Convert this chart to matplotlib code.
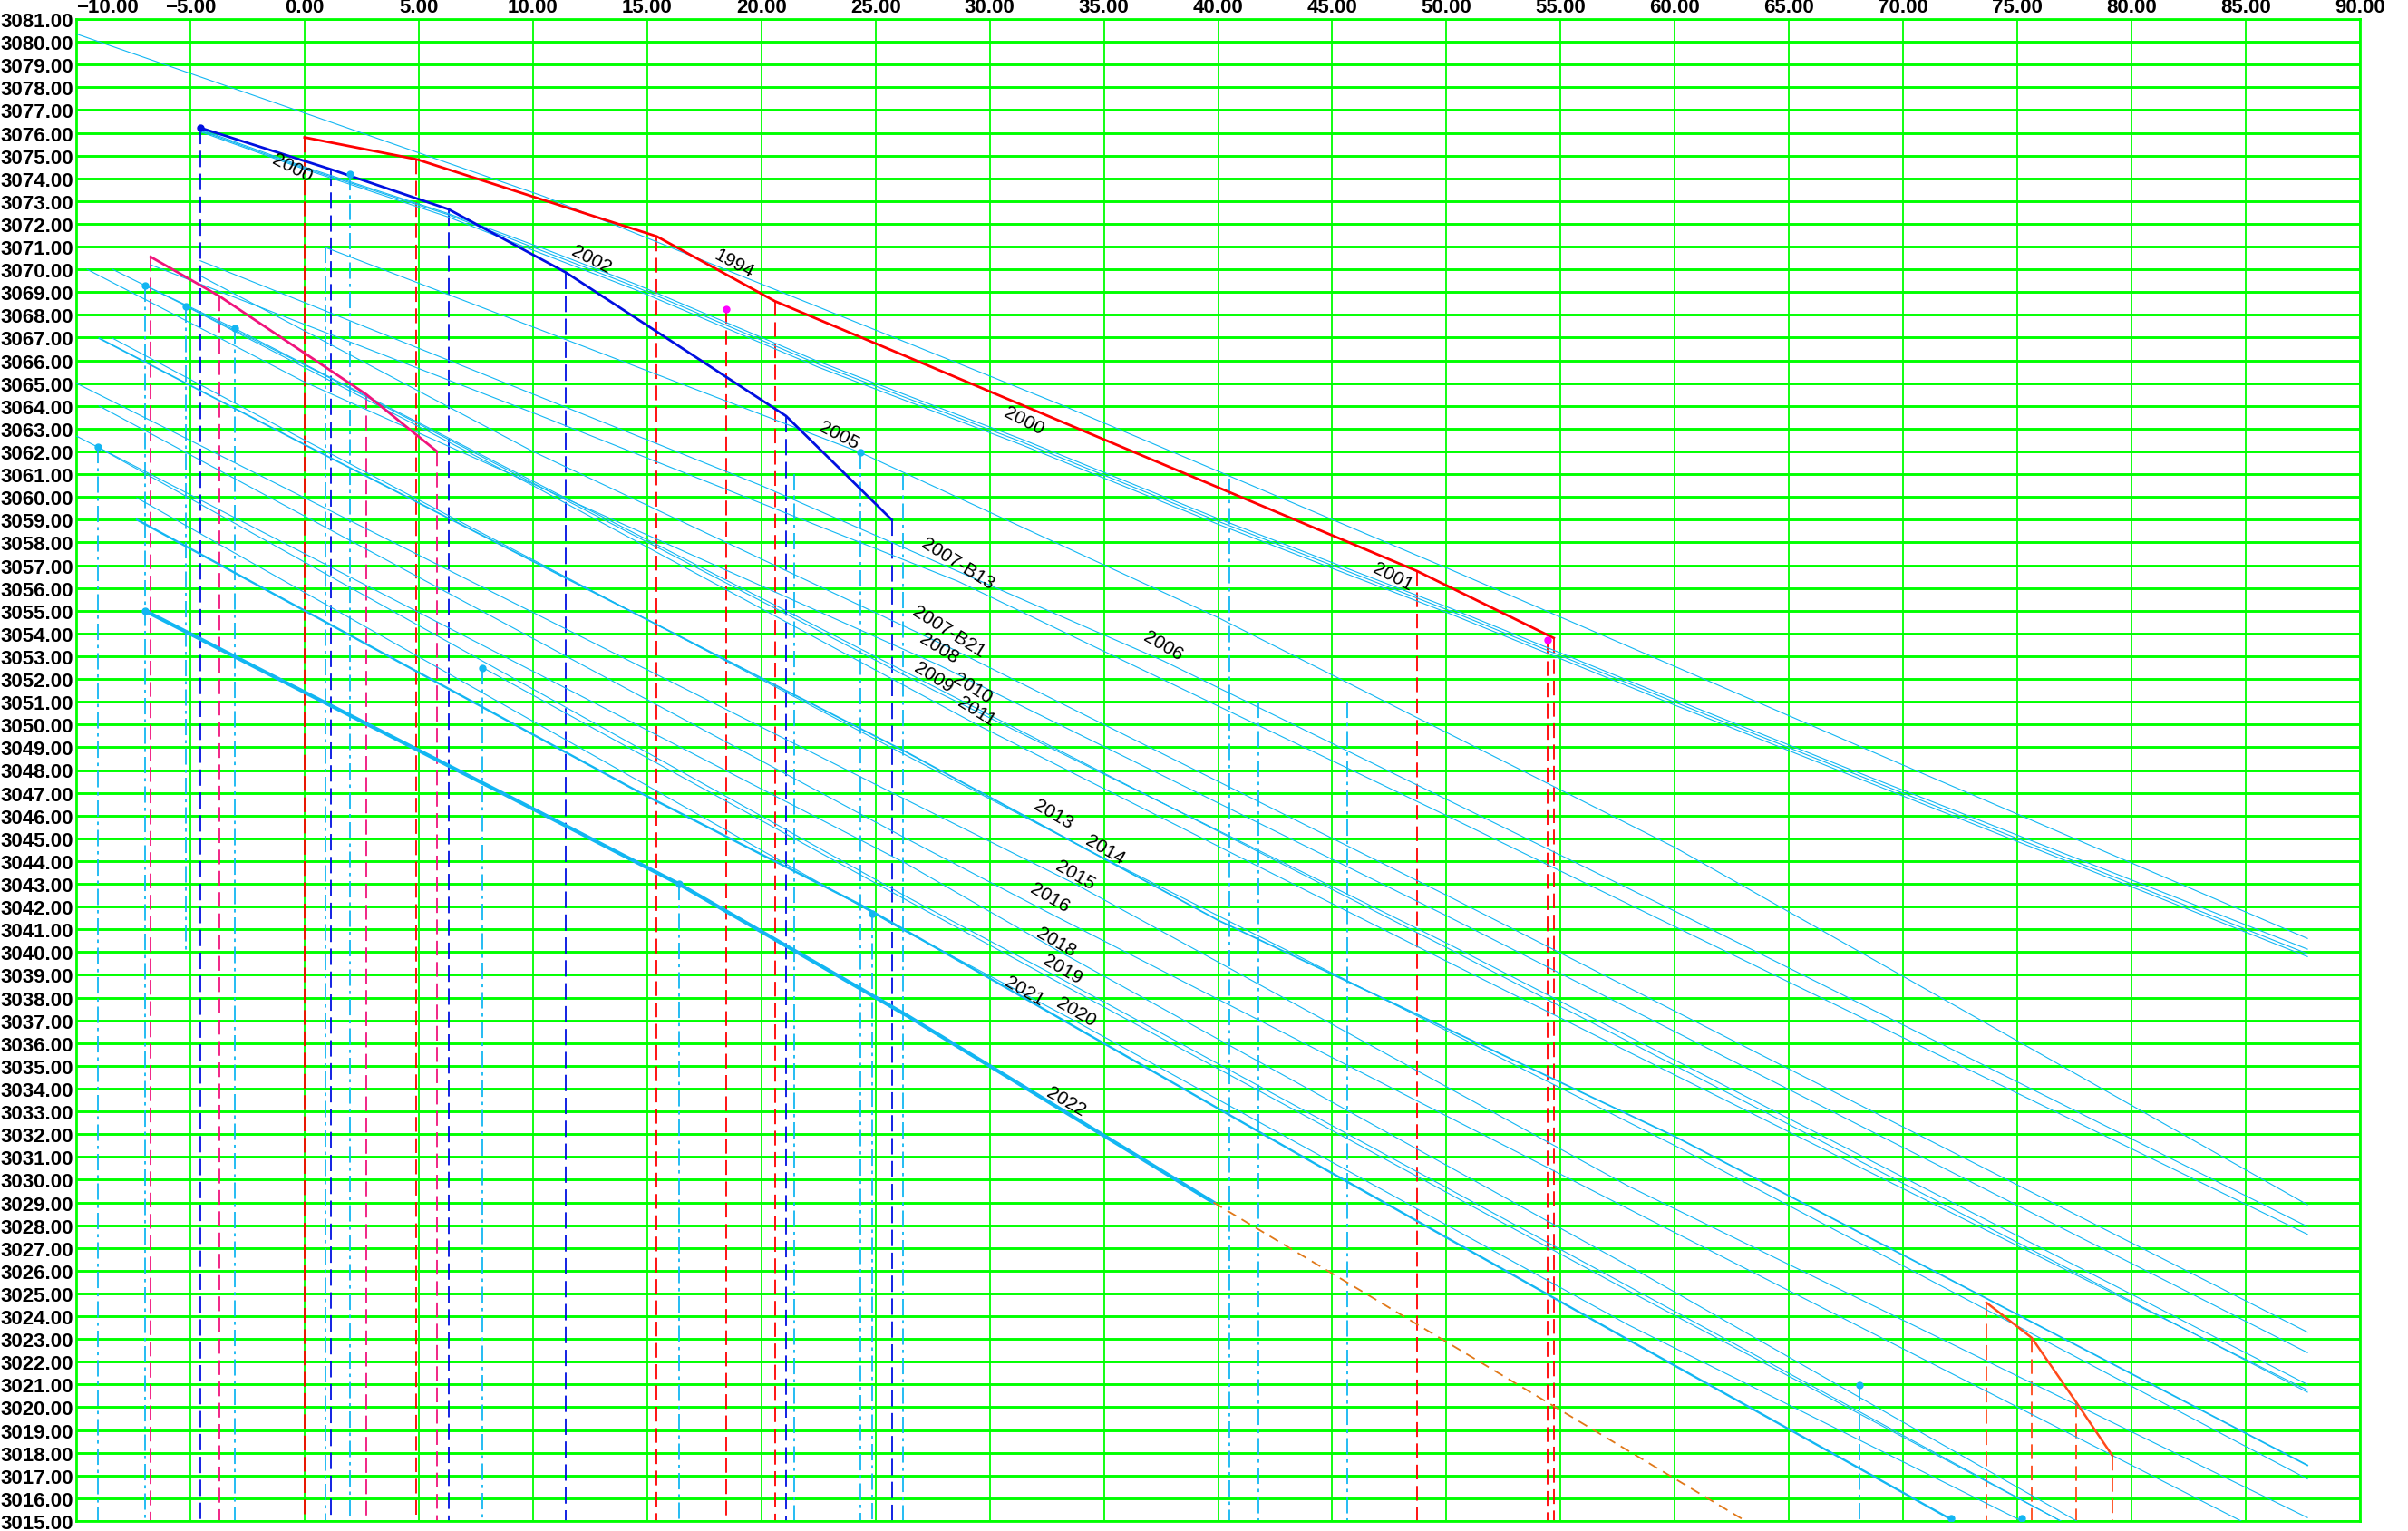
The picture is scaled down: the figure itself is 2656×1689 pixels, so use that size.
import matplotlib
matplotlib.use("Agg")
import matplotlib.pyplot as plt

plt.rcParams['font.family'] = ['Liberation Sans Narrow', 'Liberation Sans', 'DejaVu Sans']

# axis ranges
x_ticks = list(range(-10, 91, 5))
y_ticks = list(range(3015, 3082))

# profile lines (offset, elevation) per survey year
line_1994 = [(-10, 3080.35), (0, 3076.87), (10.5, 3073.2), (33.1, 3064.06), (50.2, 3056.8), (70.2, 3048.13), (87.7, 3040.6)]
line_2000 = [(-4.57, 3076.15), (0, 3074.5), (6.3, 3072.45), (10.5, 3070.9), (14.5, 3069.35), (22.5, 3065.95), (31.5, 3062.5), (40, 3059.05), (50.2, 3055.1), (60, 3051.1), (67.5, 3048.1), (87.7, 3040.13)]
line_2001 = [(-4.57, 3076.1), (0, 3074.45), (6.3, 3072.4), (10.5, 3070.78), (14.5, 3069.23), (22.5, 3065.83), (31.5, 3062.38), (40, 3058.93), (50.2, 3054.98), (60, 3050.98), (67.5, 3047.98), (87.7, 3039.93)]
line_2002 = [(-4.57, 3076.05), (0, 3074.4), (6.3, 3072.3), (10.5, 3070.65), (14.5, 3069.1), (22.5, 3065.7), (31.5, 3062.25), (40, 3058.8), (50.2, 3054.85), (60, 3050.85), (67.5, 3047.85), (87.7, 3039.8)]
line_2005 = [(0.9, 3070.97), (24.32, 3061.96), (40, 3054.7), (60, 3044.6), (87.7, 3028.9)]
line_2006 = [(-4.57, 3070.38), (20, 3060.5), (37.6, 3052.8), (60, 3041.8), (87.7, 3027.94)]
line_2007_b13 = [(-6.74, 3070.2), (10, 3063.7), (28.6, 3056.3), (50, 3046.0), (87.7, 3027.6)]
line_2007_b21 = [(-4.57, 3069.72), (10, 3062.0), (28.2, 3053.4), (50, 3042.5), (87.7, 3023.3)]
line_2008 = [(-9.52, 3070.0), (0, 3065.05), (27.8, 3052.6), (50, 3041.6), (87.7, 3022.4)]
line_2009 = [(-8.4, 3070.0), (0, 3065.8), (27.56, 3051.5), (50, 3040.4), (87.7, 3021.0)]
line_2010 = [(-6.99, 3069.3), (-3.05, 3067.4), (29.25, 3050.8), (50, 3040.2), (87.7, 3020.66)]
line_2011 = [(-5.21, 3068.39), (10, 3060.5), (29.43, 3050.0), (50, 3039.6), (87.7, 3020.75)]
line_2013 = [(-8.99, 3066.97), (0, 3062.3), (26.33, 3048.8), (40, 3041.4), (60, 3031.9), (87.7, 3017.45)]
line_2014 = [(-8.4, 3066.97), (0, 3062.5), (26.33, 3048.65), (35.05, 3044.1), (60, 3031.5), (87.7, 3016.85)]
line_2015 = [(-10, 3065.0), (26.33, 3046.7), (33.73, 3043.0), (58, 3029.7), (87.7, 3015.15)]
line_2016 = [(-9.0, 3064.0), (26.33, 3045.0), (32.64, 3041.7), (58, 3028.7), (84.8, 3015)]
line_2018 = [(-10, 3062.68), (26.33, 3043.9), (32.92, 3040.1), (58, 3026.2), (77.6, 3015)]
line_2019 = [(-9.04, 3062.18), (26.33, 3042.45), (33.18, 3038.8), (58, 3025.3), (76.9, 3015)]
line_2019b = [(7.8, 3052.5), (26.33, 3042.3), (58, 3025.1), (76.9, 3015)]
line_2020 = [(-7.34, 3059.96), (26.33, 3040.9), (33.78, 3036.95), (58, 3023.6), (75.2, 3015)]
line_2021 = [(-7.34, 3059.0), (14.8, 3046.95), (24.4, 3042.05), (43.6, 3031.07), (57.9, 3023.0), (72.1, 3015.07)]
line_2022 = [(-6.99, 3055.0), (8.73, 3046.95), (16.38, 3043.0), (26.4, 3037.2), (39.8, 3029.0)]

thin_lines = [line_1994, line_2000, line_2001, line_2002, line_2005, line_2006,
              line_2007_b13, line_2007_b21, line_2008, line_2009, line_2010,
              line_2011, line_2014, line_2015, line_2016, line_2018, line_2019,
              line_2019b, line_2020]

# design / reference polylines
red_line = [(0, 3075.8), (4.93, 3074.83), (15.42, 3071.45), (20.6, 3068.6), (48.7, 3056.75), (54.7, 3053.8)]
blue_line = [(-4.57, 3076.22), (1.17, 3074.39), (6.31, 3072.64), (11.45, 3069.86), (21.08, 3063.56), (25.71, 3059.0)]
pink_line = [(-6.74, 3070.55), (-3.74, 3068.83), (2.71, 3064.5), (5.8, 3062.0)]
orange_line = [(73.64, 3024.6), (75.63, 3023.05), (77.59, 3020.2), (79.16, 3017.87)]
orange_dash = [(39.8, 3029.0), (63.1, 3015.0)]

# boreholes: (offset, top elevation)
cyan_holes = [(-9.04, 3062.18), (-6.99, 3069.3), (-3.05, 3067.4), (0.91, 3071.0), (1.97, 3074.2),
              (7.8, 3052.5), (16.38, 3043.0), (21.43, 3061.0), (24.32, 3061.96), (24.86, 3041.7),
              (26.2, 3061.0), (40.5, 3060.8), (41.75, 3051.0), (45.65, 3051.0), (68.1, 3020.96)]
cyan_short_hole = (-5.18, 3068.39, 3040.0)
cyan_markers = [(-9.04, 3062.18), (-6.99, 3069.3), (-5.18, 3068.39), (-3.05, 3067.4), (1.97, 3074.2),
                (7.8, 3052.5), (16.38, 3043.0), (24.32, 3061.96), (24.86, 3041.7), (68.1, 3020.96),
                (72.1, 3015.1), (75.2, 3015.1), (-6.99, 3055.0)]
red_holes = [(0, 3075.8), (4.9, 3074.83), (15.42, 3071.45), (18.46, 3068.26), (20.6, 3068.6),
             (48.7, 3056.75), (54.42, 3053.7), (54.7, 3053.8)]
pink_markers = [(18.46, 3068.26), (54.42, 3053.7)]
blue_holes = [(-4.57, 3076.22), (1.17, 3074.39), (6.31, 3072.64), (11.45, 3069.86), (21.08, 3063.56), (25.71, 3059.0)]
pink_holes = [(-6.74, 3070.55), (-3.74, 3068.83), (2.71, 3064.5), (5.8, 3062.0)]
orange_holes = [(73.64, 3024.6), (75.63, 3023.05), (77.59, 3020.2), (79.16, 3017.87)]

# line labels: (text, x, y, rotation)
labels = [("2000", -0.53, 3074.48, -27), ("2002", 12.56, 3070.45, -27), ("1994", 18.82, 3070.3, -28),
          ("2005", 23.4, 3062.75, -27), ("2000", 31.5, 3063.35, -27), ("2007-B13", 28.6, 3057.1, -32),
          ("2001", 47.66, 3056.5, -27), ("2006", 37.6, 3053.5, -30), ("2007-B21", 28.2, 3054.1, -32),
          ("2008", 27.8, 3053.35, -32), ("2009", 27.56, 3052.1, -32), ("2010", 29.25, 3051.6, -32),
          ("2011", 29.43, 3050.6, -32), ("2013", 32.8, 3046.06, -30), ("2014", 35.05, 3044.54, -30),
          ("2015", 33.73, 3043.42, -30), ("2016", 32.64, 3042.4, -30), ("2018", 32.92, 3040.45, -30),
          ("2019", 33.18, 3039.26, -30), ("2021", 31.5, 3038.3, -30), ("2020", 33.78, 3037.4, -30),
          ("2022", 33.35, 3033.46, -30)]

GREEN = '#00ff00'
CYAN = '#12b6f2'
BOTTOM = 3015


def xy(pts):
    return [p[0] for p in pts], [p[1] for p in pts]


fig = plt.figure(figsize=(26.56, 16.90), dpi=100)
ax = fig.add_axes([84 / 2656, 11 / 1690, 2519 / 2656, 1657 / 1690])
ax.set_xlim(-10, 90)
ax.set_ylim(3015, 3081)

# grid
for y in y_ticks:
    ax.axhline(y, color=GREEN, lw=2.1, zorder=0)
for x in x_ticks:
    ax.axvline(x, color=GREEN, lw=1.3, zorder=0)
for s in ax.spines.values():
    s.set_color(GREEN)
    s.set_linewidth(2.0)

# boreholes
for x, top in cyan_holes:
    ax.plot([x, x], [top, BOTTOM], color=CYAN, lw=1.3, dashes=(10, 3, 2, 3), zorder=2)
ax.plot([cyan_short_hole[0]] * 2, cyan_short_hole[1:], color=CYAN, lw=1.3, dashes=(10, 3, 2, 3), zorder=2)
for x, top in red_holes:
    ax.plot([x, x], [top, BOTTOM], color='#ff0000', lw=1.3, dashes=(9, 4), zorder=2)
for x, top in blue_holes:
    ax.plot([x, x], [top, BOTTOM], color='#0010e0', lw=1.3, dashes=(10, 4), zorder=2)
for x, top in pink_holes:
    ax.plot([x, x], [top, BOTTOM], color='#f0147c', lw=1.3, dashes=(9, 4), zorder=2)
for x, top in orange_holes:
    ax.plot([x, x], [top, BOTTOM], color='#ff4a1a', lw=1.3, dashes=(9, 4), zorder=2)

# survey lines
for pts in thin_lines:
    ax.plot(*xy(pts), color=CYAN, lw=0.8, zorder=3)
ax.plot(*xy(line_2013), color=CYAN, lw=1.3, zorder=3)
ax.plot(*xy(line_2021), color=CYAN, lw=1.7, zorder=3)
ax.plot(*xy(line_2022), color=CYAN, lw=3.0, zorder=3)

ax.plot(*xy(red_line), color='#ff0000', lw=2.0, zorder=4)
ax.plot(*xy(blue_line), color='#0010e0', lw=2.0, zorder=4)
ax.plot(*xy(pink_line), color='#f0147c', lw=2.0, zorder=4)
ax.plot(*xy(orange_line), color='#ff4a1a', lw=1.8, zorder=4)
ax.plot(*xy(orange_dash), color='#e07818', lw=1.3, dashes=(6, 4), zorder=4)

ax.plot(*xy(cyan_markers), 'o', color=CYAN, ms=5, zorder=5)
ax.plot(*xy(pink_markers), 'o', color='#ff00ff', ms=5, zorder=5)
ax.plot(-4.57, 3076.22, 'o', color='#0010e0', ms=5, zorder=5)

for text, x, y, rot in labels:
    ax.text(x, y, text, rotation=rot, fontsize=15, ha='center', va='center',
            rotation_mode='anchor', zorder=6)

# ticks
ax.xaxis.tick_top()
ax.set_xticks(x_ticks)
ax.set_xticklabels([f"{v:.2f}".replace('-', '\u2212') for v in x_ticks], fontsize=16, fontweight='bold')
ax.get_xticklabels()[0].set_horizontalalignment('left')
ax.set_yticks(y_ticks)
ax.set_yticklabels([f"{v:.2f}" for v in y_ticks], fontsize=16, fontweight='bold')
ax.tick_params(axis='both', length=0, pad=2)

fig.savefig('out.png', dpi=100)
